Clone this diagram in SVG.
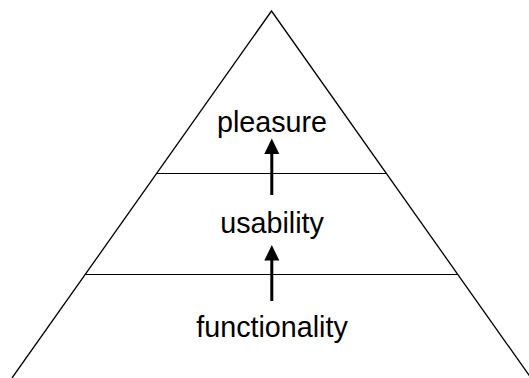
<svg xmlns="http://www.w3.org/2000/svg" width="529" height="378" viewBox="0 0 529 378">
<defs>
<style>
.ln{stroke:#000;stroke-width:1.3;fill:none}
.sep{stroke:#000;stroke-width:1;fill:none}
.ar{stroke:#000;stroke-width:3;fill:none;marker-end:url(#ah)}
.lbl{font-family:"Liberation Sans",Arial,sans-serif;font-size:28.7px;fill:#000;text-anchor:middle}
</style>
<marker id="ah" markerUnits="userSpaceOnUse" markerWidth="16" markerHeight="16" viewBox="0 0 16 16" refX="1" refY="7.5" orient="auto">
<path d="M0,0 L15.5,7.5 L0,15 Z" fill="#000"/>
</marker>
</defs>
<rect width="529" height="378" fill="#fff"/>
<g id="pyramid">
<polyline class="ln" points="12,378 271.5,11 531,378"/>
<line class="sep" x1="156.5" y1="173.5" x2="386.5" y2="173.5"/>
<line class="sep" x1="85" y1="274.5" x2="458" y2="274.5"/>
</g>
<g id="pleasure"><text class="lbl" x="272" y="131.5">pleasure</text></g>
<g id="usability"><text class="lbl" x="272" y="233">usability</text></g>
<g id="functionality"><text class="lbl" x="272" y="337">functionality</text></g>
<g id="connectors">
<line class="ar" x1="271.8" y1="195" x2="271.8" y2="153"/>
<line class="ar" x1="271.8" y1="301" x2="271.8" y2="259.5"/>
</g>
</svg>
